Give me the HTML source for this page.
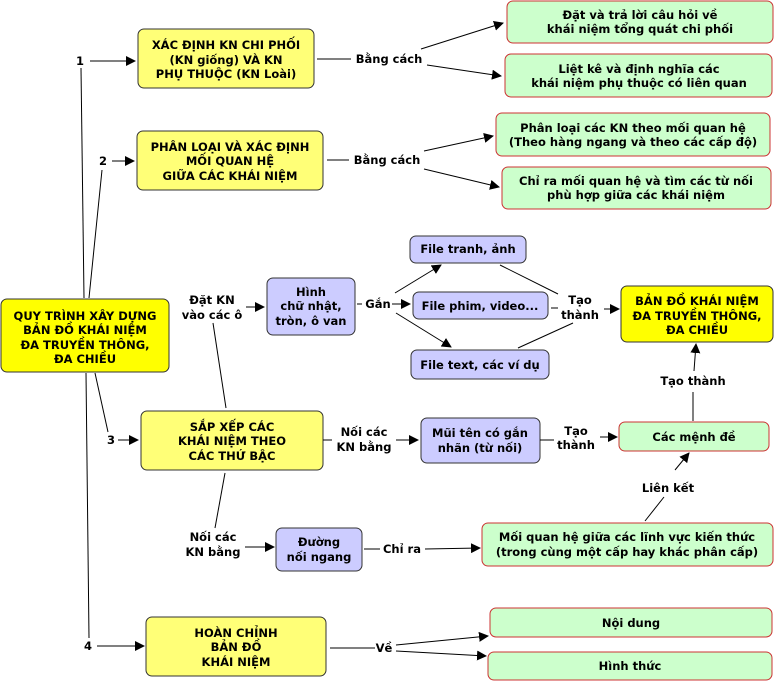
<!DOCTYPE html>
<html><head><meta charset="utf-8"><style>
html,body{margin:0;padding:0;background:#fff;}
svg{display:block;}
text{font-family:"DejaVu Sans","Liberation Sans",sans-serif;font-weight:bold;font-size:11.5px;fill:#000;}
.y{fill:#ffff77;stroke:#333;stroke-width:1;}
.Y{fill:#ffff00;stroke:#333;stroke-width:1;}
.g{fill:#ccffcc;stroke:#cc3333;stroke-width:1;}
.p{fill:#ccccff;stroke:#333;stroke-width:1;}
.l{stroke:#000;stroke-width:1;fill:none;}
</style></head><body>
<svg width="776" height="681" viewBox="0 0 776 681" xmlns="http://www.w3.org/2000/svg">
<defs><marker id="a" markerWidth="10" markerHeight="10" refX="9" refY="5" orient="auto" markerUnits="userSpaceOnUse"><path d="M0,0 L10,5 L0,10 z" fill="#000"/></marker></defs>

<!-- boxes -->
<rect class="Y" x="1" y="299" width="168" height="73" rx="6"/>
<rect class="y" x="138" y="29" width="176" height="59" rx="6"/>
<rect class="y" x="137" y="131" width="186" height="59" rx="6"/>
<rect class="y" x="141" y="411" width="182" height="59" rx="6"/>
<rect class="y" x="146" y="617" width="180" height="59" rx="6"/>
<rect class="Y" x="621" y="286" width="152" height="56" rx="6"/>
<rect class="g" x="507" y="1" width="266" height="42" rx="6"/>
<rect class="g" x="505" y="54" width="267" height="43" rx="6"/>
<rect class="g" x="496" y="113" width="274" height="43" rx="6"/>
<rect class="g" x="502" y="167" width="269" height="42" rx="6"/>
<rect class="g" x="619" y="422" width="150" height="29" rx="6"/>
<rect class="g" x="482" y="523" width="291" height="43" rx="6"/>
<rect class="g" x="490" y="608" width="282" height="29" rx="6"/>
<rect class="g" x="488" y="652" width="284" height="28" rx="6"/>
<rect class="p" x="267" y="278" width="88" height="57" rx="6"/>
<rect class="p" x="410" y="236" width="116" height="27" rx="6"/>
<rect class="p" x="413" y="292" width="135" height="27" rx="6"/>
<rect class="p" x="411" y="350" width="138" height="29" rx="6"/>
<rect class="p" x="421" y="418" width="119" height="45" rx="6"/>
<rect class="p" x="276" y="528" width="86" height="43" rx="6"/>

<!-- lines -->
<g class="l">
<line x1="81" y1="68" x2="84" y2="298"/>
<line x1="102" y1="170" x2="89" y2="298"/>
<line x1="86" y1="373" x2="89" y2="638"/>
<line x1="95" y1="373" x2="108" y2="432"/>
<line x1="90" y1="61" x2="135" y2="61" marker-end="url(#a)"/>
<line x1="112" y1="161" x2="134" y2="161" marker-end="url(#a)"/>
<line x1="118" y1="440" x2="138" y2="440" marker-end="url(#a)"/>
<line x1="97" y1="646" x2="144" y2="646" marker-end="url(#a)"/>
<line x1="317" y1="59" x2="351" y2="59"/>
<line x1="421" y1="49" x2="503" y2="23" marker-end="url(#a)"/>
<line x1="427" y1="65" x2="501" y2="76" marker-end="url(#a)"/>
<line x1="327" y1="160" x2="349" y2="160"/>
<line x1="424" y1="151" x2="493" y2="136" marker-end="url(#a)"/>
<line x1="424" y1="169" x2="499" y2="187" marker-end="url(#a)"/>
<line x1="246" y1="307" x2="264" y2="307" marker-end="url(#a)"/>
<line x1="213" y1="323" x2="226" y2="408"/>
<line x1="357" y1="304" x2="362" y2="304"/>
<line x1="392" y1="304" x2="410" y2="304" marker-end="url(#a)"/>
<line x1="395" y1="293" x2="441" y2="265" marker-end="url(#a)"/>
<line x1="396" y1="313" x2="451" y2="347" marker-end="url(#a)"/>
<line x1="500" y1="265" x2="558" y2="294"/>
<line x1="518" y1="348" x2="573" y2="323"/>
<line x1="551" y1="308" x2="558" y2="308"/>
<line x1="604" y1="309" x2="619" y2="309" marker-end="url(#a)"/>
<line x1="693" y1="421" x2="693" y2="392"/>
<line x1="694" y1="371" x2="696" y2="344" marker-end="url(#a)"/>
<line x1="323" y1="440" x2="332" y2="440"/>
<line x1="396" y1="440" x2="418" y2="440" marker-end="url(#a)"/>
<line x1="540" y1="440" x2="554" y2="440"/>
<line x1="600" y1="437" x2="617" y2="437" marker-end="url(#a)"/>
<line x1="225" y1="473" x2="215" y2="528"/>
<line x1="245" y1="547" x2="274" y2="547" marker-end="url(#a)"/>
<line x1="364" y1="549" x2="380" y2="549"/>
<line x1="425" y1="549" x2="480" y2="548" marker-end="url(#a)"/>
<line x1="645" y1="521" x2="664" y2="497"/>
<line x1="675" y1="470" x2="689" y2="453" marker-end="url(#a)"/>
<line x1="330" y1="648" x2="375" y2="648"/>
<line x1="396" y1="645" x2="488" y2="636" marker-end="url(#a)"/>
<line x1="396" y1="651" x2="486" y2="656" marker-end="url(#a)"/>
</g>

<!-- text -->
<g text-anchor="middle">
<text x="85" y="320">QUY TRÌNH XÂY DỰNG</text>
<text x="85" y="334">BẢN ĐỒ KHÁI NIỆM</text>
<text x="85" y="349">ĐA TRUYỀN THÔNG,</text>
<text x="85" y="363">ĐA CHIỀU</text>
<text x="226" y="49">XÁC ĐỊNH KN CHI PHỐI</text>
<text x="226" y="64">(KN giống) VÀ KN</text>
<text x="226" y="78">PHỤ THUỘC (KN Loài)</text>
<text x="230" y="151">PHÂN LOẠI VÀ XÁC ĐỊNH</text>
<text x="230" y="165">MỐI QUAN HỆ</text>
<text x="230" y="180">GIỮA CÁC KHÁI NIỆM</text>
<text x="232" y="431">SẮP XẾP CÁC</text>
<text x="232" y="445">KHÁI NIỆM THEO</text>
<text x="232" y="460">CÁC THỨ BẬC</text>
<text x="236" y="637">HOÀN CHỈNH</text>
<text x="236" y="651">BẢN ĐỒ</text>
<text x="236" y="666">KHÁI NIỆM</text>
<text x="697" y="305">BẢN ĐỒ KHÁI NIỆM</text>
<text x="697" y="320">ĐA TRUYỀN THÔNG,</text>
<text x="697" y="334">ĐA CHIỀU</text>
<text x="640" y="19">Đặt và trả lời câu hỏi về</text>
<text x="640" y="33">khái niệm tổng quát chi phối</text>
<text x="639" y="73">Liệt kê và định nghĩa các</text>
<text x="639" y="87">khái niệm phụ thuộc có liên quan</text>
<text x="633" y="132">Phân loại các KN theo mối quan hệ</text>
<text x="633" y="146">(Theo hàng ngang và theo các cấp độ)</text>
<text x="636" y="185">Chỉ ra mối quan hệ và tìm các từ nối</text>
<text x="636" y="199">phù hợp giữa các khái niệm</text>
<text x="694" y="441">Các mệnh đề</text>
<text x="627" y="541">Mối quan hệ giữa các lĩnh vực kiến thức</text>
<text x="627" y="556">(trong cùng một cấp hay khác phân cấp)</text>
<text x="631" y="627">Nội dung</text>
<text x="630" y="670">Hình thức</text>
<text x="311" y="296">Hình</text>
<text x="311" y="310">chữ nhật,</text>
<text x="311" y="325">tròn, ô van</text>
<text x="468" y="253">File tranh, ảnh</text>
<text x="480" y="310">File phim, video...</text>
<text x="480" y="369">File text, các ví dụ</text>
<text x="480" y="437">Mũi tên có gắn</text>
<text x="480" y="452">nhãn (từ nối)</text>
<text x="319" y="546">Đường</text>
<text x="319" y="561">nối ngang</text>
<text x="80" y="65">1</text>
<text x="103" y="165">2</text>
<text x="111" y="444">3</text>
<text x="88" y="650">4</text>
<text x="389" y="63">Bằng cách</text>
<text x="387" y="164">Bằng cách</text>
<text x="212" y="304">Đặt KN</text>
<text x="212" y="319">vào các ô</text>
<text x="378" y="308">Gắn</text>
<text x="580" y="304">Tạo</text>
<text x="580" y="319">thành</text>
<text x="693" y="385">Tạo thành</text>
<text x="364" y="436">Nối các</text>
<text x="364" y="451">KN bằng</text>
<text x="576" y="435">Tạo</text>
<text x="576" y="449">thành</text>
<text x="213" y="541">Nối các</text>
<text x="213" y="556">KN bằng</text>
<text x="402" y="553">Chỉ ra</text>
<text x="668" y="492">Liên kết</text>
<text x="384" y="652">Về</text>
</g>
</svg>
</body></html>
